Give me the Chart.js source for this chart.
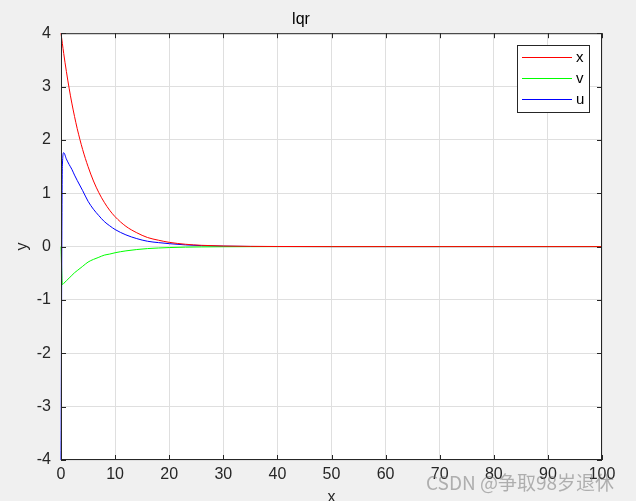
<!DOCTYPE html>
<html lang="en">
<head>
<meta charset="UTF-8">
<title>lqr</title>
<script src="https://cdn.jsdelivr.net/npm/chart.js"></script>
<style>
  html, body { margin: 0; padding: 0; background: #f0f0f0; }
  #wrap { width: 636px; height: 501px; }
</style>
</head>
<body>
<div id="wrap"><canvas id="lqrChart" width="636" height="501"></canvas></div>
<script>
// time samples and the three curves
const t    = [0, 0.25, 0.5, 1, 1.5, 2, 2.5, 3, 4, 5, 6, 7, 8, 9, 10, 12, 14, 16, 18, 20, 23, 26, 30, 35, 40, 50, 60, 70, 80, 90, 100];
const xVal = [4, 3.81, 3.62, 3.28, 2.97, 2.69, 2.44, 2.21, 1.82, 1.5, 1.23, 1.01, 0.83, 0.68, 0.56, 0.38, 0.26, 0.17, 0.12, 0.08, 0.044, 0.024, 0.011, 0.004, 0.002, 0, 0, 0, 0, 0, 0];
const vVal = [0, -0.71, -0.69, -0.64, -0.59, -0.54, -0.49, -0.45, -0.37, -0.29, -0.24, -0.2, -0.16, -0.14, -0.115, -0.08, -0.055, -0.037, -0.026, -0.018, -0.01, -0.006, -0.003, -0.001, 0, 0, 0, 0, 0, 0, 0];
const uVal = [-4, 1.5, 1.76, 1.64, 1.54, 1.45, 1.34, 1.24, 1.05, 0.85, 0.7, 0.58, 0.47, 0.39, 0.32, 0.22, 0.15, 0.1, 0.075, 0.055, 0.032, 0.018, 0.008, 0.003, 0.001, 0, 0, 0, 0, 0, 0];
const seriesNames = ['x', 'v', 'u'];
const seriesColors = ['#ff0000', '#00ff00', '#0000ff'];

const FONT = '"Liberation Sans", Arial, sans-serif';
const toPts = arr => t.map((tt, i) => ({ x: tt, y: arr[i] }));

const frame = {
    id: 'frame',
    beforeDraw(chart) {
        const a = chart.chartArea, c = chart.ctx;
        c.save();
        c.fillStyle = '#ffffff';
        c.fillRect(a.left, a.top, a.right - a.left, a.bottom - a.top);
        c.restore();
    },
    afterDraw(chart) {
        const a = chart.chartArea, c = chart.ctx;
        const xs = chart.scales.x, ys = chart.scales.y;
        c.save();
        c.strokeStyle = '#262626';
        c.lineWidth = 1;
        c.strokeRect(a.left + 0.5, a.top + 0.5, a.right - a.left - 1, a.bottom - a.top - 1);
        // inward ticks, box on
        c.beginPath();
        xs.ticks.forEach(tk => {
            const px = Math.round(xs.getPixelForValue(tk.value)) + 0.5;
            c.moveTo(px, a.bottom); c.lineTo(px, a.bottom - 5);
            c.moveTo(px, a.top); c.lineTo(px, a.top + 5);
        });
        ys.ticks.forEach(tk => {
            const py = Math.round(ys.getPixelForValue(tk.value)) + 0.5;
            c.moveTo(a.left, py); c.lineTo(a.left + 5, py);
            c.moveTo(a.right, py); c.lineTo(a.right - 5, py);
        });
        c.stroke();

        // legend box
        const lx = 517, ly = 45, lw = 72, lh = 67;
        c.fillStyle = '#ffffff';
        c.fillRect(lx, ly, lw, lh);
        c.strokeStyle = '#262626';
        c.strokeRect(lx + 0.5, ly + 0.5, lw, lh);
        c.font = '15px ' + FONT;
        c.textBaseline = 'middle';
        seriesNames.forEach((n, i) => {
            const yy = ly + 12.5 + i * 21;
            c.strokeStyle = seriesColors[i];
            c.beginPath();
            c.moveTo(lx + 5, yy); c.lineTo(lx + 55, yy);
            c.stroke();
            c.fillStyle = '#000000';
            c.fillText(n, lx + 59, yy);
        });

        // watermark
        c.font = '19px "Noto Sans CJK SC", sans-serif';
        c.fillStyle = 'rgba(120,120,120,0.55)';
        c.textBaseline = 'middle';
        c.fillText('CSDN @争取98岁退休', 426, 483);
        c.restore();
    }
};

const ctx = document.getElementById('lqrChart').getContext('2d');
const chart = new Chart(ctx, {
    type: 'line',
    data: {
        datasets: [xVal, vVal, uVal].map((arr, i) => ({
            label: seriesNames[i],
            data: toPts(arr),
            borderColor: seriesColors[i],
            borderWidth: 1,
            pointRadius: 0,
            fill: false,
            cubicInterpolationMode: 'monotone',
            clip: 2
        }))
    },
    options: {
        responsive: false,
        animation: false,
        layout: { padding: { top: 0, right: 34, left: 0, bottom: 0 } },
        plugins: {
            legend: { display: false },
            tooltip: { enabled: false },
            title: {
                display: true,
                text: 'lqr',
                color: '#000000',
                font: { family: FONT, size: 16, weight: 'normal' },
                padding: { top: 10, bottom: 4 }
            }
        },
        scales: {
            x: {
                type: 'linear',
                min: 0, max: 100,
                ticks: {
                    stepSize: 10,
                    color: '#262626',
                    padding: 5,
                    font: { family: FONT, size: 16 }
                },
                grid: { color: '#dfdfdf', drawTicks: false },
                border: { display: false },
                title: {
                    display: true, text: 'x', color: '#262626',
                    font: { family: FONT, size: 16 },
                    padding: { top: -6, bottom: -6 }
                },
                afterFit(s) { s.height = 41; }
            },
            y: {
                min: -4, max: 4,
                ticks: {
                    stepSize: 1,
                    color: '#262626',
                    padding: 10,
                    font: { family: FONT, size: 16 }
                },
                grid: { color: '#dfdfdf', drawTicks: false },
                border: { display: false },
                title: {
                    display: true, text: 'y', color: '#262626',
                    font: { family: FONT, size: 16 },
                    padding: { top: 13, bottom: 13 }
                },
                afterFit(s) { s.width = 61; }
            }
        }
    },
    plugins: [frame]
});
</script>
</body>
</html>
